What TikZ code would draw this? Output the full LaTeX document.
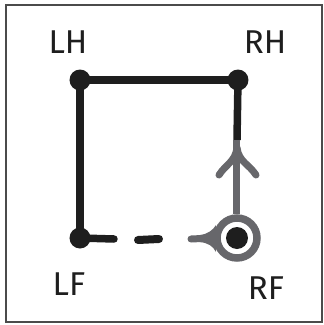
\documentclass[tikz,border=0pt]{standalone}
\usepackage{fontspec}
\setmainfont{Fira Sans}
\definecolor{ink}{HTML}{1E1E1E}
\definecolor{gry}{HTML}{67676B}
\begin{document}
\begin{tikzpicture}[x=1pt,y=-1pt,
  dot/.style={circle,fill=ink,inner sep=0pt,minimum size=21pt},
  lab/.style={font=\fontsize{33}{33}\selectfont,text=ink},
  blk/.style={draw=ink,line width=7.5pt,line cap=round},
  gl/.style={draw=gry,line width=7pt,line cap=round}]
\useasboundingbox (0,0) rectangle (324,325);
\draw[draw=ink!80,line width=2pt] (6,5) rectangle (322,322);
% points
\node[dot] (LH) at (80,80) {};
\node[dot] (RH) at (238,80) {};
\node[dot] (LF) at (80,238) {};
\node[circle,draw=gry,line width=7.5pt,minimum size=40pt,inner sep=0pt] (RF) at (237,238) {};
\node[circle,fill=ink,inner sep=0pt,minimum size=22pt] (RFc) at (237,238) {};
% labels
\node[lab] (tLH) at (68,42) {LH};
\node[lab] (tRH) at (265,42) {RH};
\node[lab] (tLF) at (69,284) {LF};
\node[lab] (tRF) at (266,288) {RF};
% solid lines
\draw[blk] (LH.center) -- (RH.center);
\draw[blk] (LH.center) -- (LF.center);
\coordinate (mid) at (237,140);
\draw[blk,line cap=butt] (RH.center) -- (mid);
\draw[gl,line cap=butt] (mid) -- (RF.north);
% arrowhead
\coordinate (tip) at (237,148);
\coordinate (wl) at (219,175);
\coordinate (wr) at (256,175);
\draw[gl,line width=7pt] (tip) .. controls (235,162) and (226,164) .. (wl);
\draw[gl,line width=7pt] (tip) .. controls (239,162) and (249,164) .. (wr);
% bottom dashed part
\coordinate (d1) at (114,239);
\coordinate (d2a) at (138,240);
\coordinate (d2b) at (159,239);
\coordinate (g1) at (191,239);
\draw[blk] (LF.center) -- (d1);
\draw[blk,line width=8pt] (d2a) -- (d2b);
\draw[gl] (g1) -- (RF.west);
\fill[gry] (200,235) .. controls (208,234) and (213,230) .. (216,225)
  -- (216,252) .. controls (213,246) and (208,243) .. (200,242) -- cycle;
\end{tikzpicture}
\end{document}
